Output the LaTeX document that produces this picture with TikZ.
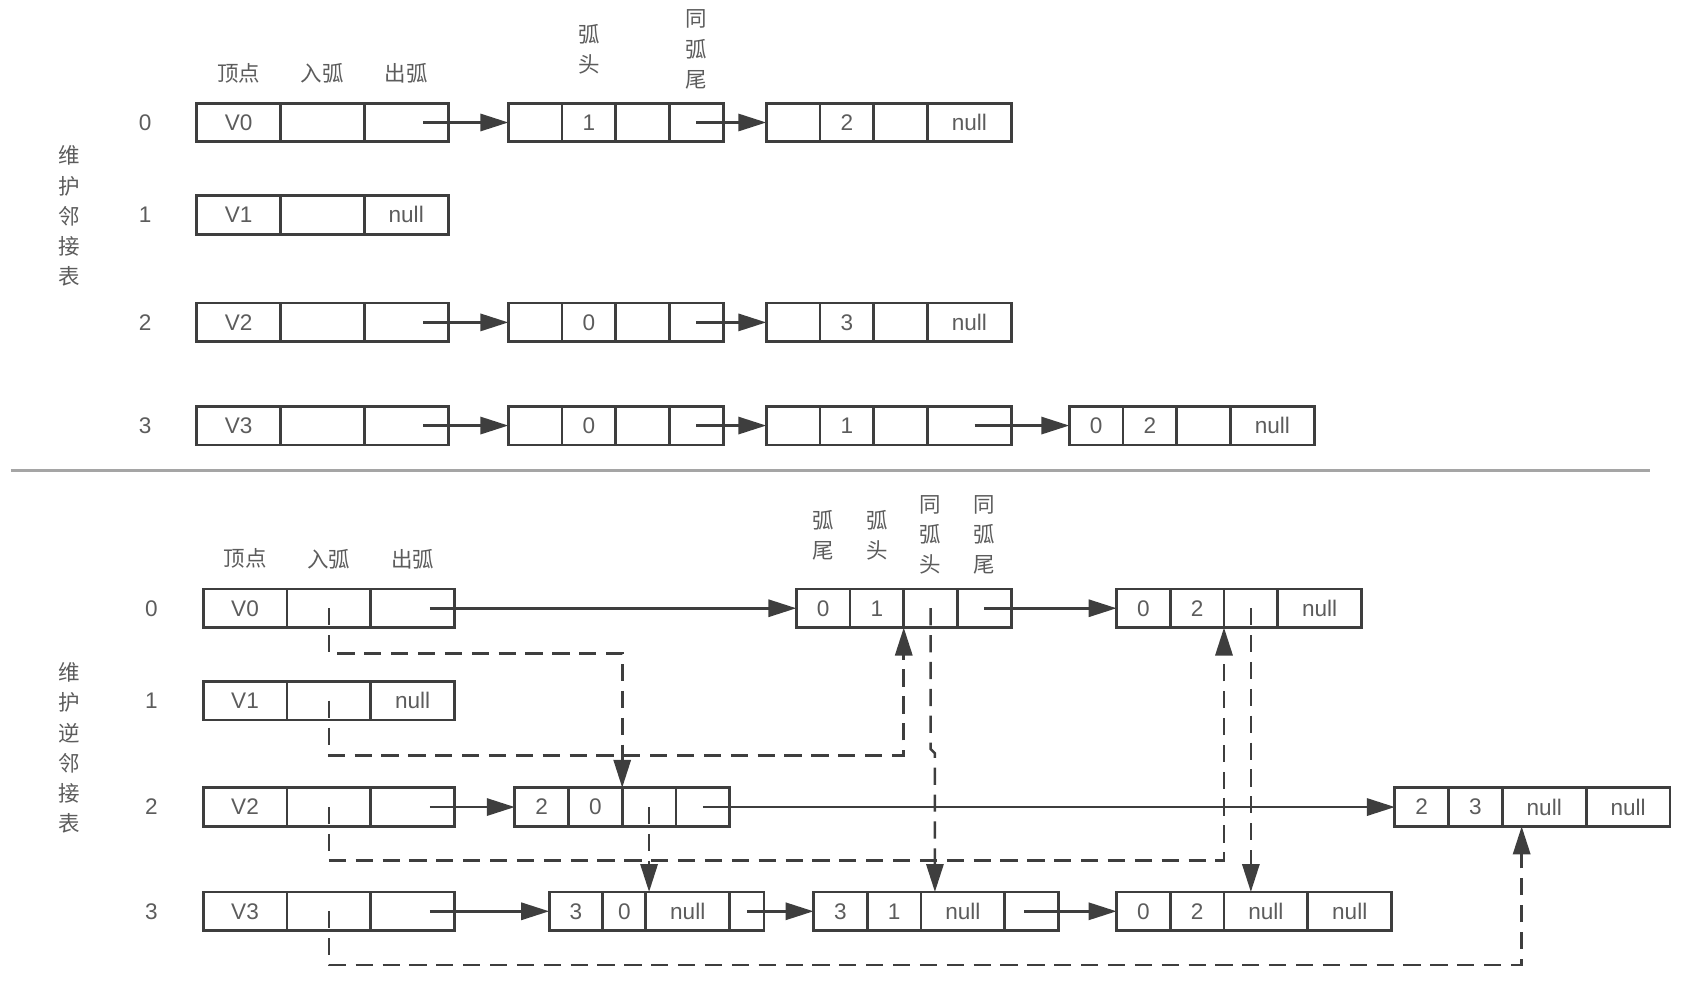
\documentclass[tikz,border=0pt]{standalone}
\usepackage{fontspec}
\setmainfont{Liberation Sans}
\newfontfamily\cjk{Noto Sans CJK SC}
\usepackage{xcolor}
\definecolor{boxgray}{RGB}{62,62,62}
\definecolor{txtgray}{RGB}{92,92,92}
\definecolor{rulegray}{RGB}{165,165,165}
\usepackage{tikz}
\usetikzlibrary{arrows.meta,positioning}

\tikzset{
  cell/.style={draw=boxgray, line width=2.6pt, minimum width=50pt, minimum height=36pt,
    inner sep=0pt, outer sep=0pt, text=txtgray, font=\fontsize{21}{24}\selectfont},
  wide/.style={cell, minimum width=78pt},
  idx/.style={text=txtgray, font=\fontsize{21}{24}\selectfont},
  head/.style={text=txtgray, font=\cjk\fontsize{20}{28}\selectfont, align=center, inner sep=0pt},
  link/.style={draw=boxgray, line width=2.4pt, -{Triangle[length=26pt,width=16pt]}},
  back/.style={link, dash pattern=on 16pt off 9pt},
}

\begin{document}
\begin{tikzpicture}[x=1pt,y=-1pt]
  \useasboundingbox (0,0) rectangle (1568,916);

  %%%%%%%% Adjacency list (top)
  % Side label and headers
  \node[head] (tside) at (64,201) {维\\护\\邻\\接\\表};
  \node[head] (th1) at (222,68) {顶点};
  \node[head] (th2) at (300,68) {入弧};
  \node[head] (th3) at (378,68) {出弧};
  \node[head] (th4) at (548,46) {弧\\头};
  \node[head] (th5) at (648,46) {同\\弧\\尾};

  % Vertex table
  \foreach \i/\y/\o in {0/114/{},1/200/null,2/300/{},3/396/{}} {
    \node[idx] (ti\i) at (135,\y) {\i};
    \node[wide] (tv\i-d) at (222,\y) {V\i};
    \node[wide, right=0pt of tv\i-d] (tv\i-i) {};
    \node[wide, right=0pt of tv\i-i] (tv\i-o) {\o};
  }

  % Row 0 arcs
  \node[cell, anchor=west] (ta1) at (473,114) {};
  \node[cell, right=0pt of ta1] (ta2) {1};
  \node[cell, right=0pt of ta2] (ta3) {};
  \node[cell, right=0pt of ta3] (ta4) {};
  \node[cell, anchor=west] (tb1) at (713,114) {};
  \node[cell, right=0pt of tb1] (tb2) {2};
  \node[cell, right=0pt of tb2] (tb3) {};
  \node[wide, right=0pt of tb3] (tb4) {null};

  % Row 2 arcs
  \node[cell, anchor=west] (tc1) at (473,300) {};
  \node[cell, right=0pt of tc1] (tc2) {0};
  \node[cell, right=0pt of tc2] (tc3) {};
  \node[cell, right=0pt of tc3] (tc4) {};
  \node[cell, anchor=west] (td1) at (713,300) {};
  \node[cell, right=0pt of td1] (td2) {3};
  \node[cell, right=0pt of td2] (td3) {};
  \node[wide, right=0pt of td3] (td4) {null};

  % Row 3 arcs
  \node[cell, anchor=west] (te1) at (473,396) {};
  \node[cell, right=0pt of te1] (te2) {0};
  \node[cell, right=0pt of te2] (te3) {};
  \node[cell, right=0pt of te3] (te4) {};
  \node[cell, anchor=west] (tf1) at (713,396) {};
  \node[cell, right=0pt of tf1] (tf2) {1};
  \node[cell, right=0pt of tf2] (tf3) {};
  \node[wide, right=0pt of tf3] (tf4) {};
  \node[cell, anchor=west] (tg1) at (995,396) {0};
  \node[cell, right=0pt of tg1] (tg2) {2};
  \node[cell, right=0pt of tg2] (tg3) {};
  \node[wide, right=0pt of tg3] (tg4) {null};

  % Links
  \draw[link] ([xshift=16pt]tv0-o.center) -- (ta1.west);
  \draw[link] (ta4.center) -- (tb1.west);
  \draw[link] ([xshift=16pt]tv2-o.center) -- (tc1.west);
  \draw[link] (tc4.center) -- (td1.west);
  \draw[link] ([xshift=16pt]tv3-o.center) -- (te1.west);
  \draw[link] (te4.center) -- (tf1.west);
  \draw[link] ([xshift=5pt]tf4.center) -- (tg1.west);

  % Separator
  \draw[rulegray, line width=3pt] (10,438) -- (1535,438);

  %%%%%%%% Inverse adjacency list (bottom)
  % Side label and headers
  \node[head] (bside) at (64,696) {维\\护\\逆\\邻\\接\\表};
  \node[head] (bh1) at (228,520) {顶点};
  \node[head] (bh2) at (306,520) {入弧};
  \node[head] (bh3) at (384,520) {出弧};
  \node[head] (bh4) at (766,498) {弧\\尾};
  \node[head] (bh5) at (816,498) {弧\\头};
  \node[head] (bh6) at (866,498) {同\\弧\\头};
  \node[head] (bh7) at (916,498) {同\\弧\\尾};

  % Vertex table
  \foreach \i/\y/\o in {0/566/{},1/652/null,2/751/{},3/848/{}} {
    \node[idx] (bi\i) at (141,\y) {\i};
    \node[wide] (bv\i-d) at (228,\y) {V\i};
    \node[wide, right=0pt of bv\i-d] (bv\i-i) {};
    \node[wide, right=0pt of bv\i-i] (bv\i-o) {\o};
  }

  % Row 0 arcs
  \node[cell, anchor=west] (ba1) at (741,566) {0};
  \node[cell, right=0pt of ba1] (ba2) {1};
  \node[cell, right=0pt of ba2] (ba3) {};
  \node[cell, right=0pt of ba3] (ba4) {};
  \node[cell, anchor=west] (bb1) at (1039,566) {0};
  \node[cell, right=0pt of bb1] (bb2) {2};
  \node[cell, right=0pt of bb2] (bb3) {};
  \node[wide, right=0pt of bb3] (bb4) {null};

  % Row 2 arcs
  \node[cell, anchor=west] (bc1) at (479,751) {2};
  \node[cell, right=0pt of bc1] (bc2) {0};
  \node[cell, right=0pt of bc2] (bc3) {};
  \node[cell, right=0pt of bc3] (bc4) {};
  \node[cell, anchor=west] (bd1) at (1298,751) {2};
  \node[cell, right=0pt of bd1] (bd2) {3};
  \node[wide, right=0pt of bd2] (bd3) {null};
  \node[wide, right=0pt of bd3] (bd4) {null};

  % Row 3 arcs
  \node[cell, anchor=west] (be1) at (511,848) {3};
  \node[cell, minimum width=40pt, right=0pt of be1] (be2) {0};
  \node[wide, right=0pt of be2] (be3) {null};
  \node[cell, minimum width=32pt, right=0pt of be3] (be4) {};
  \node[cell, anchor=west] (bf1) at (757,848) {3};
  \node[cell, right=0pt of bf1] (bf2) {1};
  \node[wide, right=0pt of bf2] (bf3) {null};
  \node[cell, right=0pt of bf3] (bf4) {};
  \node[cell, anchor=west] (bg1) at (1039,848) {0};
  \node[cell, right=0pt of bg1] (bg2) {2};
  \node[wide, right=0pt of bg2] (bg3) {null};
  \node[wide, right=0pt of bg3] (bg4) {null};

  % Out-arc links
  \draw[link] ([xshift=16pt]bv0-o.center) -- (ba1.west);
  \draw[link] (ba4.center) -- (bb1.west);
  \draw[link] ([xshift=16pt]bv2-o.center) -- (bc1.west);
  \draw[link] (bc4.center) -- (bd1.west);
  \draw[link] ([xshift=16pt]bv3-o.center) -- (be1.west);
  \draw[link] (be4.center) -- (bf1.west);
  \draw[link] ([xshift=-7pt]bf4.center) -- (bg1.west);

  % In-arc links (dashed)
  \draw[back] (bv0-i.center) -- ++(0,42) -| (bc2.north east);
  \draw[back] (bv1-i.center) -- ++(0,51) -| (ba2.south east);
  \draw[back] (bv2-i.center) -- ++(0,50) -| (bb2.south east);
  \draw[back] (bv3-i.center) -- ++(0,50) -| ([xshift=18pt]bd3.south west);
  \draw[back] (ba3.center) -- ++(0,131) -- ++(4,4) -- ([xshift=13pt]bf3.north west);
  \draw[back] (bc3.center) -- (bc3.center |- be3.north);
  \draw[back] (bb3.center) -- (bb3.center |- bg3.north);
\end{tikzpicture}
\end{document}
